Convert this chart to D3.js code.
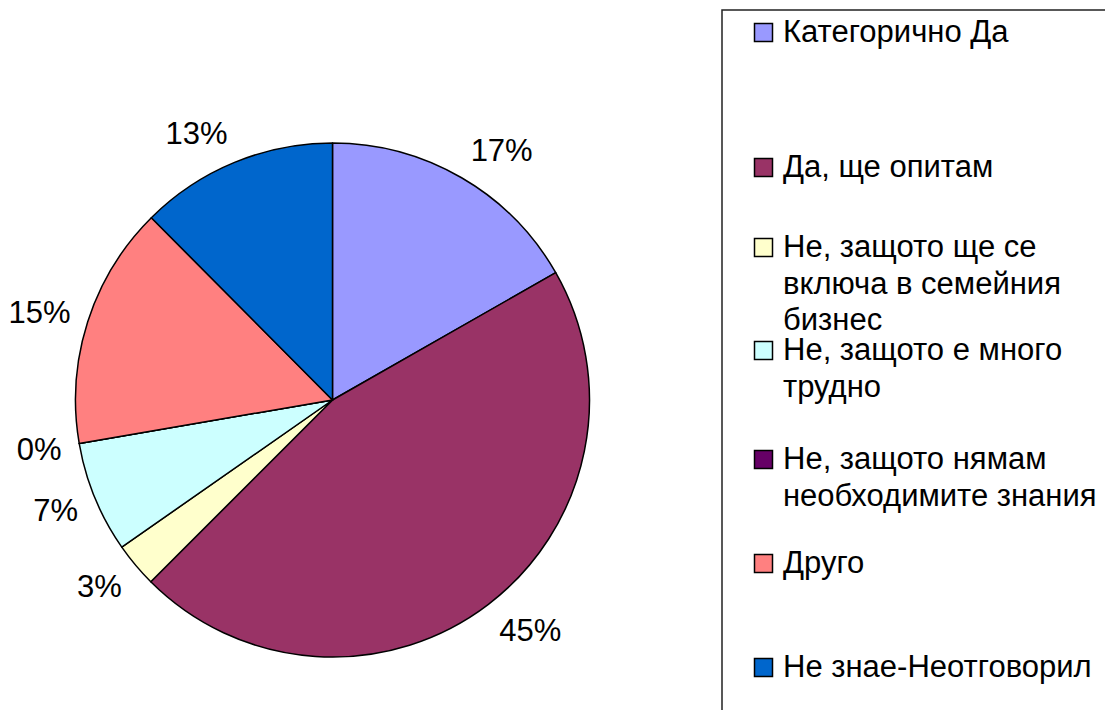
<!DOCTYPE html>
<html>
<head>
<meta charset="utf-8">
<script src="https://cdn.jsdelivr.net/npm/d3@7"></script>
<style>
  body { margin: 0; background: #fff; }
  text { font-family: "Liberation Sans", Arial, sans-serif; fill: #000; }
</style>
</head>
<body>
<div id="chart"></div>
<script>
// categories, in drawing order (clockwise from 12 o'clock)
var categories = [
  "Категорично Да",
  "Да, ще опитам",
  "Не, защото ще се включа в семейния бизнес",
  "Не, защото е много трудно",
  "Не, защото нямам необходимите знания",
  "Друго",
  "Не знае-Неотговорил"
];
// slice shares
var shares = [16.75, 45.75, 2.8, 7.0, 0, 15.25, 12.45];
// data labels as printed on the chart
var pctLabels = ["17%", "45%", "3%", "7%", "0%", "15%", "13%"];
var colors = ["#9999FF", "#993366", "#FFFFCC", "#CCFFFF", "#660066", "#FF8080", "#0066CC"];

var width = 1105, height = 710;
var cx = 332.5, cy = 400, radius = 257;
var fontSize = 31;

// first-line baselines of the legend entries
var legendRows = [42, 177, 257, 360, 469, 573, 677];
var lineStep = 36.5;

var svg = d3.select("#chart").append("svg")
    .attr("width", width)
    .attr("height", height);

var pie = d3.pie().sort(null).value(function(d) { return d; });
var arcs = pie(shares);

var arc = d3.arc().innerRadius(0).outerRadius(radius);

var g = svg.append("g")
    .attr("transform", "translate(" + cx + "," + cy + ")");

g.selectAll("path.slice")
    .data(arcs)
    .enter()
    .append("path")
    .attr("class", "slice")
    .attr("d", arc)
    .style("fill", function(d, i) { return colors[i]; })
    .style("stroke", "#000")
    .style("stroke-width", 1.5)
    .style("stroke-linejoin", "round");

// outside-end labels: anchor on a ring, box pushed away from the pie
var labelR = 275, halfH = 14;
g.selectAll("text.pct")
    .data(arcs)
    .enter()
    .append("text")
    .attr("class", "pct")
    .attr("text-anchor", "middle")
    .attr("dy", "0.36em")
    .style("font-size", fontSize + "px")
    .text(function(d, i) { return pctLabels[i]; })
    .attr("transform", function(d) {
      var a = (d.startAngle + d.endAngle) / 2,
          ux = Math.sin(a), uy = -Math.cos(a),
          w = this.getComputedTextLength();
      var x = labelR * ux + (ux < 0 ? -1 : 1) * w / 2,
          y = labelR * uy + uy * halfH;
      return "translate(" + x + "," + y + ")";
    });

// legend
var legend = svg.append("g").attr("class", "legend");

legend.append("rect")
    .attr("x", 722)
    .attr("y", 10)
    .attr("width", 420)
    .attr("height", 720)
    .style("fill", "none")
    .style("stroke", "#222")
    .style("stroke-width", 1.5);

var maxLine = 335;

var items = legend.selectAll("g.item")
    .data(categories)
    .enter()
    .append("g")
    .attr("class", "item")
    .attr("transform", function(d, i) { return "translate(0," + legendRows[i] + ")"; });

items.append("rect")
    .attr("x", 754.5)
    .attr("y", -18.5)
    .attr("width", 18)
    .attr("height", 18)
    .style("fill", function(d, i) { return colors[i]; })
    .style("stroke", "#000")
    .style("stroke-width", 1.5);

items.each(function(d) {
  var t = d3.select(this).append("text")
      .attr("x", 783)
      .attr("y", 0)
      .style("font-size", fontSize + "px");
  var words = d.split(" "), line = [], n = 0;
  var tspan = t.append("tspan").attr("x", 783).attr("y", 0);
  words.forEach(function(w) {
    line.push(w);
    tspan.text(line.join(" "));
    if (tspan.node().getComputedTextLength() > maxLine && line.length > 1) {
      line.pop();
      tspan.text(line.join(" "));
      line = [w];
      n++;
      tspan = t.append("tspan").attr("x", 783).attr("y", n * lineStep).text(w);
    }
  });
});
</script>
</body>
</html>
